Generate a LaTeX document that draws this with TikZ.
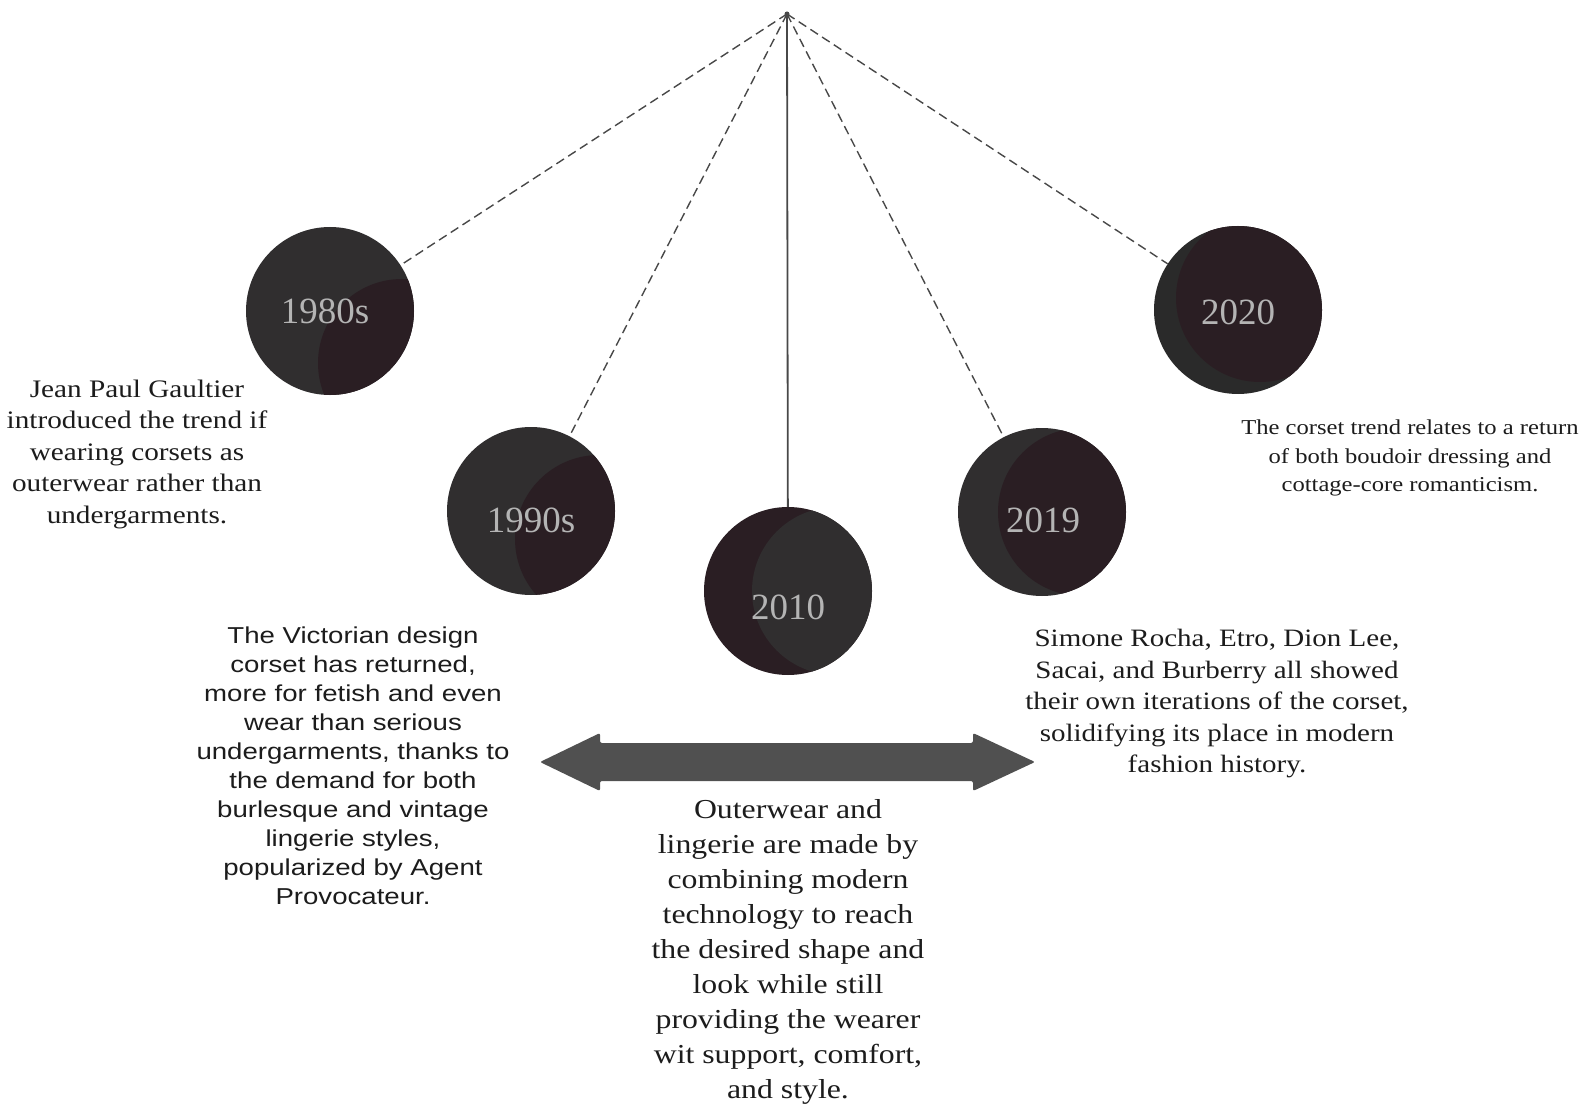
\documentclass[tikz,border=0pt]{standalone}
\usepackage{fontspec}
\setmainfont{Liberation Serif}
\newfontfamily\serifW[FakeStretch=1.16]{Liberation Serif}
\newfontfamily\sansW[FakeStretch=1.2]{Liberation Sans}
\newfontfamily\serifY{Liberation Serif}
\usetikzlibrary{backgrounds}
\definecolor{discgray}{HTML}{302E2F}
\definecolor{discdark}{HTML}{2A2A2A}
\definecolor{discplum}{HTML}{2A1E23}
\definecolor{yeargray}{HTML}{B4B4B4}
\definecolor{linegray}{HTML}{484848}
\definecolor{arrowgray}{HTML}{505050}
\definecolor{txt}{HTML}{1C1C1C}
\begin{document}
\begin{tikzpicture}[x=1pt,y=-1pt,
  disc/.style={circle, minimum size=168pt, inner sep=0pt, fill=discgray},
  moon/.style 2 args={path picture={\fill[#1, shift={(path picture bounding box.center)}] #2 circle (84);}},
  year/.style={text=yeargray, inner sep=0pt, font=\serifY\fontsize{37}{40}\selectfont},
  tie/.style={draw=linegray, line width=1.4pt, dash pattern=on 9pt off 5pt},
  stem/.style={draw=linegray, line width=1.8pt},
  note/.style={align=center, text=txt, inner sep=0pt},
]
\useasboundingbox (0,0) rectangle (1591,1107);
\coordinate (apex) at (787,14);

\node[disc, moon={discplum}{(72,52)}] (c80) at (330,311) {};
\node[disc, moon={discplum}{(68,28)}] (c90) at (531,511) {};
\node[disc, fill=discplum, moon={discgray}{(48,0)}] (c10) at (788,591) {};
\node[disc, moon={discplum}{(40,0)}] (c19) at (1042,512) {};
\node[disc, fill=discdark, moon={discplum}{(22,-12)}] (c20) at (1238,310) {};

\node[year] (y80) at (325,311) {1980s};
\node[year] (y90) at (531,520) {1990s};
\node[year] (y10) at (788,607) {2010};
\node[year] (y19) at (1043,520) {2019};
\node[year] (y20) at (1238,312) {2020};

\begin{scope}[on background layer]
  \draw[tie] (apex) -- (c80);
  \draw[tie] (apex) -- (c90);
  \draw[stem] (apex) -- (c10);
  \draw[tie] (apex) -- (c19);
  \draw[tie] (apex) -- (c20);
\end{scope}
\fill[linegray] (apex) circle (2.5);

\path[fill=arrowgray, rounded corners=2pt] (540,762) -- (600,733) -- (600,743) -- (973,743) -- (973,733) -- (1035,762) -- (973,791) -- (973,781) -- (600,781) -- (600,791) -- cycle;

\node[note, font=\serifW\fontsize{25.2}{31.5}\selectfont] (t80) at (137,454)
  {Jean Paul Gaultier\\introduced the trend if\\wearing corsets as\\outerwear rather than\\undergarments.};
\node[note, font=\sansW\fontsize{23}{29}\selectfont] (t90) at (353,766)
  {The Victorian design\\corset has returned,\\more for fetish and even\\wear than serious\\undergarments, thanks to\\the demand for both\\burlesque and vintage\\lingerie styles,\\popularized by Agent\\Provocateur.};
\node[note, font=\serifW\fontsize{27.4}{35.1}\selectfont] (t10) at (788,952)
  {Outerwear and\\lingerie are made by\\combining modern\\technology to reach\\the desired shape and\\look while still\\providing the wearer\\wit support, comfort,\\and style.};
\node[note, font=\serifW\fontsize{25}{31.5}\selectfont] (t19) at (1217,704)
  {Simone Rocha, Etro, Dion Lee,\\Sacai, and Burberry all showed\\their own iterations of the corset,\\solidifying its place in modern\\fashion history.};
\node[note, font=\serifW\fontsize{21.2}{28.4}\selectfont] (t20) at (1410,458)
  {The corset trend relates to a return\\of both boudoir dressing and\\cottage-core romanticism.};
\end{tikzpicture}
\end{document}
